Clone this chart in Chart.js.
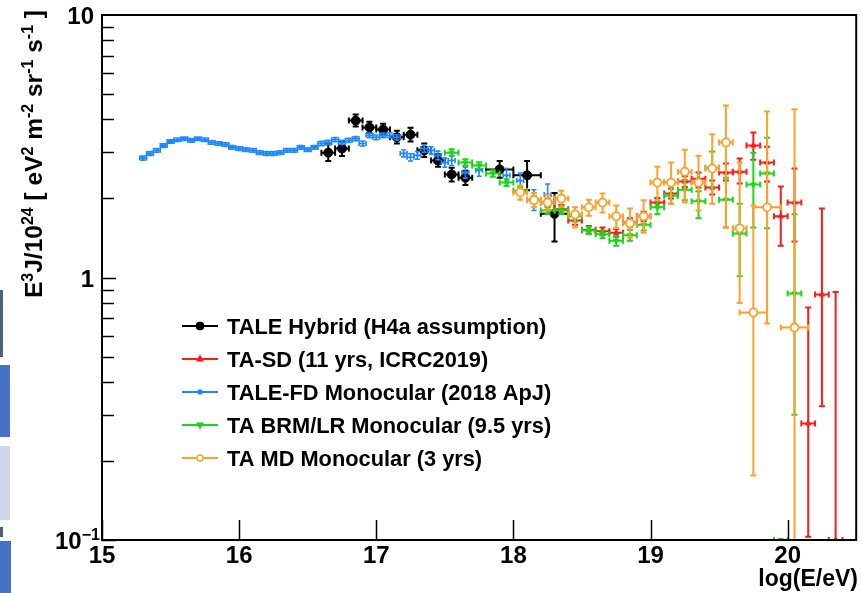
<!DOCTYPE html>
<html>
<head>
<meta charset="utf-8">
<script src="https://cdn.jsdelivr.net/npm/chart.js@4.4.0/dist/chart.umd.min.js"></script>
<style>
html, body { margin: 0; padding: 0; background: #fff; }
canvas { display: block; }
</style>
</head>
<body>
<canvas id="spectrum" width="862" height="593"></canvas>
<script>
// TALE hybrid (H4a)
var hybX   = [16.65, 16.75, 16.85, 16.95, 17.05, 17.15, 17.25, 17.35, 17.45, 17.55, 17.65, 17.9, 18.1, 18.3];
var hybY   = [2.99, 3.10, 3.96, 3.73, 3.66, 3.42, 3.50, 3.05, 2.79, 2.47, 2.40, 2.58, 2.45, 1.75];
var hybLo  = [2.78, 2.90, 3.76, 3.55, 3.48, 3.24, 3.30, 2.88, 2.64, 2.32, 2.25, 2.40, 2.15, 1.37];
var hybHi  = [3.22, 3.30, 4.18, 3.92, 3.85, 3.62, 3.72, 3.24, 2.95, 2.62, 2.55, 2.78, 2.78, 2.10];
var hybXe  = [0.05, 0.05, 0.05, 0.05, 0.05, 0.05, 0.05, 0.05, 0.05, 0.05, 0.05, 0.1, 0.1, 0.1];

// TA-SD 11 yrs
var sdX  = [18.25, 18.35, 18.45, 18.55, 18.65, 18.75, 18.85, 18.95, 19.05, 19.15, 19.25, 19.35, 19.45, 19.55, 19.65, 19.75, 19.85, 19.95, 20.05, 20.15, 20.25, 20.35];
var sdY  = [1.93, 1.82, 1.65, 1.52, 1.50, 1.48, 1.62, 1.71, 1.93, 2.09, 2.32, 2.38, 2.20, 2.51, 2.53, 3.18, 2.74, 1.71, 1.93, 0.278, 0.861, 0.1];
var sdLo = [1.86, 1.75, 1.59, 1.47, 1.45, 1.43, 1.56, 1.64, 1.85, 2.00, 2.21, 2.20, 2.07, 2.34, 2.28, 2.81, 2.32, 1.32, 1.37, 0.103, 0.323, 0.1];
var sdHi = [2.00, 1.89, 1.71, 1.57, 1.55, 1.53, 1.68, 1.78, 2.01, 2.18, 2.43, 2.51, 2.34, 2.72, 2.84, 3.57, 3.15, 2.22, 2.60, 0.769, 1.83, 0.88];

// TALE-FD monocular
var fdX = [15.30, 15.35, 15.40, 15.45, 15.50, 15.55, 15.60, 15.65, 15.70, 15.75, 15.80, 15.85, 15.90, 15.95,
           16.00, 16.05, 16.10, 16.15, 16.20, 16.25, 16.30, 16.35, 16.40, 16.45, 16.50, 16.55, 16.60, 16.65,
           16.70, 16.75, 16.80, 16.85, 16.90, 16.95, 17.00, 17.05, 17.10, 17.15, 17.20, 17.25, 17.30, 17.35,
           17.40, 17.45, 17.50, 17.55, 17.65, 17.75, 17.95, 18.05, 18.15, 18.25];
var fdY = [2.85, 2.97, 3.05, 3.18, 3.30, 3.35, 3.38, 3.33, 3.38, 3.35, 3.27, 3.24, 3.21, 3.13,
           3.10, 3.07, 3.05, 2.99, 2.97, 2.97, 2.99, 3.05, 3.05, 3.13, 3.07, 3.13, 3.24, 3.27,
           3.35, 3.27, 3.33, 3.38, 3.24, 3.48, 3.42, 3.48, 3.48, 3.42, 2.97, 2.87, 2.92, 3.10,
           3.05, 2.92, 2.74, 2.79, 2.51, 2.56, 2.45, 2.34, 1.98, 2.07];
var fdErr = [0.05, 0.05, 0.05, 0.05, 0.05, 0.05, 0.05, 0.05, 0.05, 0.05, 0.05, 0.05, 0.05, 0.05,
             0.05, 0.05, 0.05, 0.05, 0.05, 0.05, 0.05, 0.05, 0.05, 0.05, 0.05, 0.05, 0.06, 0.06,
             0.06, 0.06, 0.06, 0.06, 0.07, 0.07, 0.07, 0.07, 0.08, 0.08, 0.09, 0.09, 0.10, 0.10,
             0.10, 0.11, 0.11, 0.12, 0.12, 0.13, 0.15, 0.16, 0.18, 0.20];

// TA BRM/LR monocular 9.5 yrs
var brX  = [17.55, 17.65, 17.75, 17.85, 17.95, 18.05, 18.15, 18.25, 18.35, 18.45, 18.55, 18.65, 18.75, 18.85, 18.95,
            19.05, 19.15, 19.25, 19.35, 19.45, 19.55, 19.65, 19.75, 19.85, 19.95, 20.05];
var brY  = [2.99, 2.74, 2.67, 2.49, 2.30, 2.14, 1.98, 1.80, 1.80, 1.71, 1.51, 1.46, 1.38, 1.45, 1.59,
            1.85, 2.05, 2.16, 1.95, 2.62, 1.98, 1.47, 2.26, 2.49, 0.1, 0.869];
var brLo = [2.90, 2.66, 2.59, 2.42, 2.23, 2.07, 1.92, 1.74, 1.74, 1.65, 1.46, 1.41, 1.32, 1.38, 1.51,
            1.74, 1.91, 1.97, 1.68, 2.20, 1.55, 1.01, 1.55, 1.54, 0.1, 0.30];
var brHi = [3.08, 2.82, 2.75, 2.56, 2.37, 2.21, 2.04, 1.86, 1.86, 1.77, 1.56, 1.51, 1.44, 1.52, 1.67,
            1.96, 2.19, 2.35, 2.13, 3.02, 2.40, 1.91, 2.99, 3.41, 0.1, 1.74];

// TA MD monocular 3 yrs
var mdX  = [18.05, 18.15, 18.25, 18.35, 18.45, 18.55, 18.65, 18.75, 18.85, 18.95, 19.05, 19.15, 19.25, 19.35,
            19.45, 19.55, 19.65, 19.75, 19.85, 20.05];
var mdY  = [2.11, 1.97, 1.93, 2.00, 1.74, 1.85, 1.93, 1.71, 1.61, 1.71, 2.30, 2.30, 2.53, 2.30,
            2.60, 3.27, 1.54, 0.736, 1.85, 0.645];
var mdLo = [1.98, 1.85, 1.80, 1.86, 1.55, 1.72, 1.77, 1.54, 1.42, 1.48, 1.97, 1.91, 1.93, 1.80,
            1.91, 1.55, 0.80, 0.176, 0.668, 0.01];
var mdHi = [2.24, 2.10, 2.06, 2.14, 1.85, 1.98, 2.09, 1.88, 1.83, 1.97, 2.64, 2.74, 3.07, 2.91,
            3.51, 4.52, 2.74, 1.88, 4.29, 4.37];
var mdXe = [0.05, 0.05, 0.05, 0.05, 0.05, 0.05, 0.05, 0.05, 0.05, 0.05, 0.05, 0.05, 0.05, 0.05,
            0.05, 0.05, 0.05, 0.1, 0.1, 0.1];

var yTicks = [0.1, 1, 10];
var xTicks = [15, 16, 17, 18, 19, 20];

var BLACK = 'rgb(0,0,0)';
var RED = 'rgb(255,25,25)';
var BLUE = 'rgb(30,136,255)';
var GREEN = 'rgb(25,215,25)';
var ORANGE = 'rgb(255,160,40)';

function pts(xs, ys) {
    return xs.map(function (v, i) { return { x: v, y: ys[i] }; });
}
function fill(n, v) {
    var a = [];
    for (var i = 0; i < n; i++) a.push(v);
    return a;
}

var legendRows = [
    { label: 'TALE Hybrid (H4a assumption)', color: BLACK, style: 'circle', r: 4, hollow: false, rot: 0 },
    { label: 'TA-SD (11 yrs, ICRC2019)', color: RED, style: 'triangle', r: 3, hollow: false, rot: 0 },
    { label: 'TALE-FD Monocular (2018 ApJ)', color: BLUE, style: 'rect', r: 2, hollow: false, rot: 0 },
    { label: 'TA BRM/LR Monocular (9.5 yrs)', color: GREEN, style: 'triangle', r: 3, hollow: false, rot: 180 },
    { label: 'TA MD Monocular (3 yrs)', color: ORANGE, style: 'circle', r: 3, hollow: true, rot: 0 }
];

var errorBars = {
    id: 'errorBars',
    beforeDatasetDraw: function (chart, args) {
        var ds = chart.data.datasets[args.index];
        if (!ds.errLo) return;
        var ctx = chart.ctx, a = chart.chartArea;
        var sx = chart.scales.x, sy = chart.scales.y;
        ctx.save();
        ctx.beginPath();
        ctx.rect(a.left, a.top, a.right - a.left, a.bottom - a.top);
        ctx.clip();
        ctx.strokeStyle = ds.borderColor;
        ctx.lineWidth = ds.errWidth || 2;
        var cap = ds.errCap || 3;
        ds.data.forEach(function (p, i) {
            var px = sx.getPixelForValue(p.x);
            var py = sy.getPixelForValue(p.y);
            var pl = sx.getPixelForValue(p.x - ds.errX[i]);
            var pr = sx.getPixelForValue(p.x + ds.errX[i]);
            var pt = sy.getPixelForValue(ds.errHi[i]);
            var pb = sy.getPixelForValue(ds.errLo[i]);
            ctx.beginPath();
            ctx.moveTo(pl, py); ctx.lineTo(pr, py);
            ctx.moveTo(pl, py - cap); ctx.lineTo(pl, py + cap);
            ctx.moveTo(pr, py - cap); ctx.lineTo(pr, py + cap);
            if (pb - pt > 1) {
                ctx.moveTo(px, pt); ctx.lineTo(px, pb);
                ctx.moveTo(px - cap, pt); ctx.lineTo(px + cap, pt);
                ctx.moveTo(px - cap, pb); ctx.lineTo(px + cap, pb);
            }
            ctx.stroke();
        });
        ctx.restore();
    }
};

function drawSupText(ctx, parts, big, small, rise) {
    var x = 0;
    parts.forEach(function (p) {
        ctx.font = 'bold ' + (p[1] ? small : big) + 'px "Liberation Sans", Arial, sans-serif';
        ctx.fillText(p[0], x, p[1] ? -rise : 0);
        x += ctx.measureText(p[0]).width;
    });
}

var frame = {
    id: 'frame',
    afterDraw: function (chart) {
        var ctx = chart.ctx, a = chart.chartArea;
        var sx = chart.scales.x, sy = chart.scales.y;
        ctx.save();

        // slide remnants along the left edge
        ctx.fillStyle = 'rgb(84,96,120)';
        ctx.fillRect(0, 290, 3, 67);
        ctx.fillRect(0, 527, 3, 10);
        ctx.fillStyle = 'rgb(68,114,196)';
        ctx.fillRect(0, 365, 10, 72);
        ctx.fillRect(0, 541, 11, 52);
        ctx.fillStyle = 'rgb(206,213,234)';
        ctx.fillRect(0, 446, 10, 74);

        // frame
        ctx.strokeStyle = '#000';
        ctx.lineWidth = 2;
        ctx.strokeRect(a.left, a.top, a.right - a.left, a.bottom - a.top);

        // y ticks (log)
        ctx.lineWidth = 1.5;
        ctx.beginPath();
        for (var d = 0.1; d < 10; d *= 10) {
            for (var m = 1; m <= 9; m++) {
                var v = d * m;
                var py = Math.round(sy.getPixelForValue(v)) + 0.5;
                var len = m === 1 ? 14 : 12;
                ctx.moveTo(a.left, py); ctx.lineTo(a.left + len, py);
            }
        }
        ctx.stroke();
        // x ticks
        ctx.beginPath();
        xTicks.forEach(function (t) {
            var px = Math.round(sx.getPixelForValue(t)) + 0.5;
            ctx.moveTo(px, a.bottom); ctx.lineTo(px, a.bottom - 20);
        });
        ctx.stroke();

        ctx.fillStyle = '#000';
        // x tick labels
        ctx.font = 'bold 24px "Liberation Sans", Arial, sans-serif';
        ctx.textAlign = 'center';
        ctx.textBaseline = 'alphabetic';
        xTicks.forEach(function (t) {
            ctx.fillText(String(t), sx.getPixelForValue(t), a.bottom + 23);
        });
        // y tick labels
        ctx.textAlign = 'right';
        yTicks.forEach(function (t) {
            var py = sy.getPixelForValue(t);
            if (t === 0.1) {
                ctx.save();
                ctx.textAlign = 'left';
                ctx.translate(55, py + 9);
                drawSupText(ctx, [['10', 0], ['\u22121', 1]], 24, 16, 9);
                ctx.restore();
            } else {
                ctx.fillText(String(t), a.left - 8, py + 9);
            }
        });

        // x title
        ctx.font = 'bold 23px "Liberation Sans", Arial, sans-serif';
        ctx.textAlign = 'right';
        ctx.fillText('log(E/eV)', 858, 586);

        // y title
        ctx.save();
        ctx.translate(42, 298);
        ctx.rotate(-Math.PI / 2);
        ctx.textAlign = 'left';
        drawSupText(ctx, [['E', 0], ['3', 1], ['J/10', 0], ['24', 1], [' [ eV', 0], ['2', 1], [' m', 0],
            ['-2', 1], [' sr', 0], ['-1', 1], [' s', 0], ['-1', 1], [' ]', 0]], 24.5, 16, 9.5);
        ctx.restore();

        // legend
        var rowY = [326, 359, 392, 425, 458];
        legendRows.forEach(function (row, i) {
            var y = rowY[i];
            ctx.strokeStyle = row.color;
            ctx.lineWidth = 2;
            ctx.beginPath();
            ctx.moveTo(182, y); ctx.lineTo(218, y);
            ctx.stroke();
            ctx.lineWidth = row.hollow ? 1.5 : 1;
            ctx.fillStyle = row.hollow ? '#fff' : row.color;
            ctx.strokeStyle = row.color;
            ctx.beginPath();
            if (row.style === 'circle') {
                ctx.arc(200, y, row.r, 0, Math.PI * 2);
            } else if (row.style === 'rect') {
                ctx.rect(200 - row.r, y - row.r, row.r * 2, row.r * 2);
            } else {
                var s = row.rot ? -1 : 1;
                ctx.moveTo(200, y - s * row.r * 1.2);
                ctx.lineTo(200 + row.r * 1.1, y + s * row.r * 0.7);
                ctx.lineTo(200 - row.r * 1.1, y + s * row.r * 0.7);
                ctx.closePath();
            }
            ctx.fill();
            ctx.stroke();
            ctx.fillStyle = '#000';
            ctx.font = 'bold 21.8px "Liberation Sans", Arial, sans-serif';
            ctx.textAlign = 'left';
            ctx.fillText(row.label, 227, y + 7.5);
        });
        ctx.restore();
    }
};

function series(label, xs, ys, lo, hi, xe, color, style, radius, hollow, rot, bw) {
    return {
        label: label,
        data: pts(xs, ys),
        errLo: lo, errHi: hi, errX: xe,
        borderColor: color,
        backgroundColor: hollow ? '#fff' : color,
        pointStyle: style,
        pointRadius: radius,
        pointRotation: rot || 0,
        pointBorderWidth: bw !== undefined ? bw : (hollow ? 1.8 : 1),
        showLine: false
    };
}

var fdSeries = series('TALE-FD Monocular (2018 ApJ)', fdX, fdY,
    fdY.map(function (v, i) { return v - fdErr[i]; }),
    fdY.map(function (v, i) { return v + fdErr[i]; }),
    fill(fdX.length, 0.025), BLUE, 'rect', 1.5, false, 0, 0);
fdSeries.errWidth = 1.6;
fdSeries.errCap = 2.5;

var ctx = document.getElementById('spectrum').getContext('2d');
var chart = new Chart(ctx, {
    type: 'scatter',
    data: {
        datasets: [
            series('TA MD Monocular (3 yrs)', mdX, mdY, mdLo, mdHi, mdXe, ORANGE, 'circle', 4, true),
            series('TA BRM/LR Monocular (9.5 yrs)', brX, brY, brLo, brHi, fill(brX.length, 0.05), GREEN, 'triangle', 3, false, 180),
            series('TA-SD (11 yrs, ICRC2019)', sdX, sdY, sdLo, sdHi, fill(sdX.length, 0.05), RED, 'triangle', 3, false),
            fdSeries,
            series('TALE Hybrid (H4a assumption)', hybX, hybY, hybLo, hybHi, hybXe, BLACK, 'circle', 4.5, false)
        ]
    },
    options: {
        responsive: false,
        animation: false,
        layout: { padding: { left: 102, right: 3, top: 15, bottom: 53 } },
        plugins: { legend: { display: false }, tooltip: { enabled: false } },
        scales: {
            x: { type: 'linear', min: 15, max: 20.5, display: false },
            y: { type: 'logarithmic', min: 0.1, max: 10, display: false }
        }
    },
    plugins: [errorBars, frame]
});
</script>
</body>
</html>
